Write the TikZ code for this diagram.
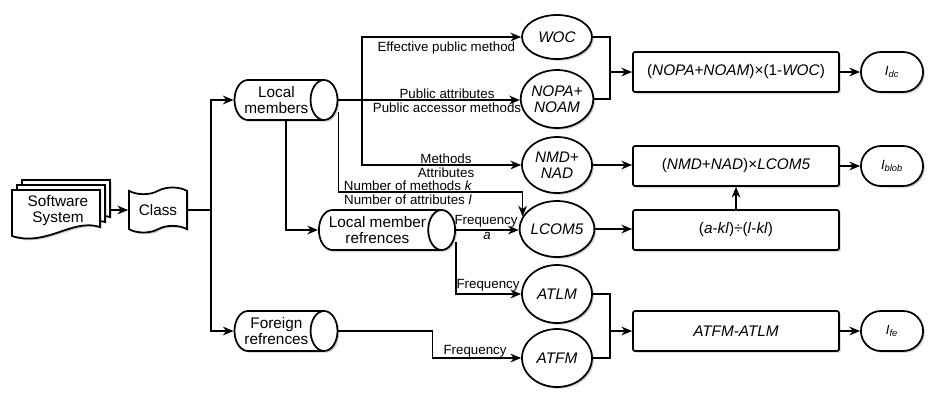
\documentclass[tikz,border=0pt]{standalone}
\usepackage{fontspec}
\setmainfont{Liberation Sans}
\setsansfont{Liberation Sans}
\usetikzlibrary{arrows.meta, positioning, shapes.geometric, shapes.symbols, shapes.misc, calc, shadows}
\definecolor{cline}{HTML}{000000}
\definecolor{cshadow}{HTML}{8C8C8C}
\tikzset{
  every picture/.style={font=\sffamily, line width=1.3pt},
  dropsh/.style={drop shadow={shadow xshift=1.3pt, shadow yshift=-1.3pt, fill=cshadow, opacity=0.45}},
  store/.style={cylinder, anchor=shape center, draw=cline, fill=white, dropsh, aspect=0.9, align=center, inner sep=1pt, minimum width=30pt, font=\fontsize{11.5}{12}\selectfont},
  metric/.style={ellipse, draw=cline, fill=white, dropsh, align=center, inner sep=0pt, minimum width=52.5pt, minimum height=42pt, font=\fontsize{11.5}{12}\selectfont\itshape},
  proc/.style={draw=cline, fill=white, dropsh, rounded corners=1.5pt, minimum width=154.5pt, minimum height=30pt, font=\fontsize{11.5}{12}\selectfont},
  term/.style={rounded rectangle, draw=cline, fill=white, dropsh, minimum width=53.25pt, minimum height=30pt, font=\fontsize{10}{11}\selectfont\itshape},
  arrow/.style={-{Stealth[length=8pt, width=6.5pt, inset=2.5pt]}, draw=cline},
  lbl/.style={font=\fontsize{10}{11}\selectfont, inner sep=0pt},
}

\begin{document}
\begin{tikzpicture}[x=0.75pt, y=-0.75pt]
  \useasboundingbox (0,0) rectangle (930,394);
  \newcommand{\docpage}[2]{% top left corner of one page
    \draw[fill=white, dropsh] (#1,#2) -- (#1+88,#2) -- (#1+88,#2+37)
      .. controls (#1+60,#2+28) and (#1+35,#2+57) .. (#1,#2+46) -- cycle;
  }
  % input documents
  \docpage{22}{180}
  \docpage{17}{185}
  \docpage{12}{190}
  \node[align=center, minimum width=75pt, inner sep=0pt, font=\fontsize{11.5}{12}\selectfont] (sys) at (58,211) {Software\\System};
  \node[tape, draw=cline, fill=white, dropsh, minimum width=43.5pt, minimum height=33.75pt, tape bend height=5pt, font=\fontsize{11.5}{12}\selectfont] (class) at (158,210) {Class};

  % members and references
  \node[store, minimum height=76.5pt] (lm) at (286,100) {Local\\members};
  \node[store, minimum height=98pt] (lmr) at (387,230) {Local member\\refrences};
  \node[store, minimum height=76.5pt] (fr) at (286,331) {Foreign\\refrences};

  % metrics
  \node[metric, minimum height=33pt] (woc) at (557,37) {WOC};
  \node[metric, minimum height=43.5pt] (nopa) at (557,99) {NOPA+\\NOAM};
  \node[metric] (nmd) at (557,165) {NMD+\\NAD};
  \node[metric] (lcom) at (557,229) {LCOM5};
  \node[metric, minimum height=43.5pt] (atlm) at (557,294) {ATLM};
  \node[metric, minimum height=43.5pt] (atfm) at (557,358) {ATFM};

  % formulas
  \node[proc] (f1) at (736,72) {(\textit{NOPA}+\textit{NOAM})×(1-\textit{WOC})};
  \node[proc] (f2) at (736,166) {(\textit{NMD}+\textit{NAD})×\textit{LCOM5}};
  \node[proc] (f3) at (736,230) {(\textit{a}-\textit{kl})÷(\textit{l}-\textit{kl})};
  \node[proc] (f4) at (736,331) {\textit{ATFM-ATLM}};

  % indicators
  \node[term] (t1) at (892,72) {I\textsubscript{dc}};
  \node[term] (t2) at (892,166) {I\textsubscript{blob}};
  \node[term] (t3) at (892,331) {I\textsubscript{fe}};

  % left wiring
  \coordinate (split) at (211,210);
  \draw[arrow] (sys.east |- class.west) -- (class.west);
  \draw (class.east) -- (split);
  \draw[arrow] (split) |- (lm.west);
  \draw[arrow] (split) |- (fr.west);
  \draw[arrow] (lm.shape center |- lm.south) |- (lmr.west);

  % members to metrics
  \coordinate (fork) at (362,100);
  \draw[arrow] (lm.east) -- (lm.east -| nopa.west);
  \draw[arrow] (fork) |- (woc.west);
  \draw[arrow] (fork) |- (nmd.west);
  \draw[arrow] ($(lm.east)+(0,12)$) -- ++(0,80) -| (lcom.160);
  \draw[arrow] (lmr.east) -- (lmr.east -| lcom.west);
  \draw[arrow] ($(lmr.east)+(0,12)$) |- (atlm.west);
  \draw[arrow] (fr.east) -- ++(94,0) |- (atfm.west);

  % labels
  \node[lbl, anchor=east] (eff) at (516,48) {Effective public method};
  \node[lbl] (pubat) at (447,94) {Public attributes};
  \node[lbl] (pubac) at (447,108) {Public accessor methods};
  \node[lbl] (meth) at (446,159) {Methods};
  \node[lbl] (attr) at (446,173) {Attributes};
  \node[lbl] (nmk) at (408,186) {Number of methods \textit{k}};
  \node[lbl] (nal) at (408,200) {Number of attributes \textit{l}};
  \node[lbl] (freqa) at (486,221) {Frequency};
  \node[lbl] (sma) at (487,236) {\textit{a}};
  \node[lbl] (freqb) at (488,285) {Frequency};
  \node[lbl] (freqc) at (475,351) {Frequency};

  % metrics to formulas
  \coordinate (j1) at ($(f1.west)+(-22,0)$);
  \coordinate (j4) at ($(f4.west)+(-22,0)$);
  \draw (woc.east) -| (j1);
  \draw (nopa.east) -| (j1);
  \draw[arrow] (j1) -- (f1.west);
  \draw[arrow] (nmd.east) -- (nmd.east -| f2.west);
  \draw[arrow] (lcom.east) -- (lcom.east -| f3.west);
  \draw[arrow] (f3.north) -- (f2.south);
  \draw (atlm.east) -| (j4);
  \draw (atfm.east) -| (j4);
  \draw[arrow] (j4) -- (f4.west);

  % formulas to indicators
  \draw[arrow] (f1.east) -- (t1.west);
  \draw[arrow] (f2.east) -- (t2.west);
  \draw[arrow] (f4.east) -- (t3.west);
\end{tikzpicture}
\end{document}
